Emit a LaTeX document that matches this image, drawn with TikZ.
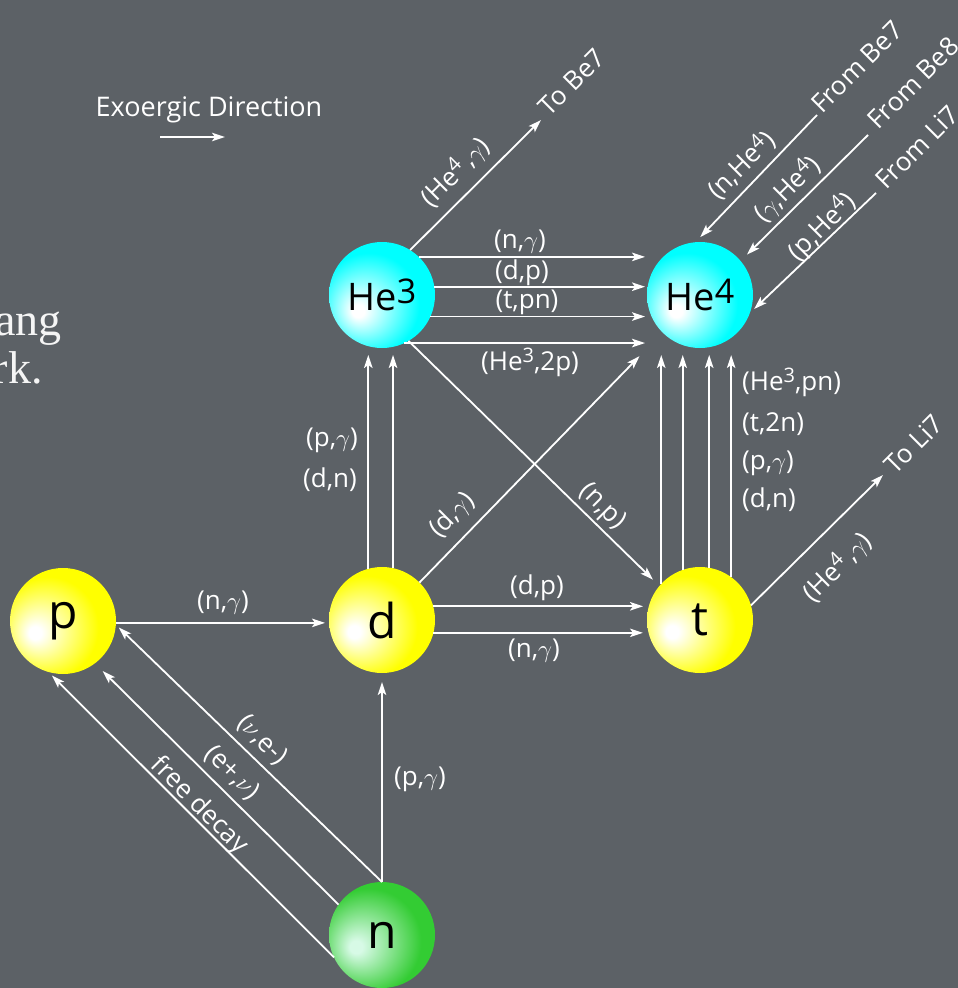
\documentclass[tikz,border=0pt]{standalone}
\usepackage{fontspec}
\usetikzlibrary{arrows.meta}
\newfontfamily\lab{Open Sans}
\newfontfamily\ser{Liberation Serif}
\definecolor{bg}{RGB}{92,97,102}
\definecolor{ngreen}{RGB}{51,204,51}
\definecolor{ltgreen}{RGB}{215,250,230}
\definecolor{txtw}{RGB}{245,245,245}
\pgfdeclareradialshading{yball}{\pgfpoint{-14bp}{-6bp}}{color(0bp)=(white); color(3bp)=(white); color(24bp)=(yellow); color(50bp)=(yellow)}
\pgfdeclareradialshading{cball}{\pgfpoint{-12bp}{-8bp}}{color(0bp)=(white); color(3bp)=(white); color(24bp)=(cyan); color(50bp)=(cyan)}
\pgfdeclareradialshading{gball}{\pgfpoint{-13bp}{-6bp}}{color(0bp)=(ltgreen); color(3bp)=(ltgreen); color(25bp)=(ngreen); color(50bp)=(ngreen)}
\newcommand\lsup[1]{\raisebox{8pt}{\fontsize{20}{20}\selectfont #1}}
\newcommand\nsup[1]{\raisebox{7pt}{\fontsize{34}{34}\selectfont #1}}
\tikzset{
  ball/.style={circle, minimum size=106pt, inner sep=0pt, outer sep=0pt, text=black},
  small/.style={font=\lab\fontsize{48}{52}\selectfont},
  heball/.style={font=\lab\fontsize{38}{42}\selectfont},
  arr/.style={draw=white, line width=1.8pt, -{Stealth[length=13pt,width=8.5pt,inset=3pt]}},
  lbl/.style={text=white, font=\lab\fontsize{26}{29}\selectfont, inner sep=0pt},
  ttl/.style={text=txtw, font=\ser\fontsize{46}{50}\selectfont, inner sep=0pt, anchor=base east},
}
\begin{document}
\begin{tikzpicture}[x=1pt,y=-1pt]
\fill[bg] (0,0) rectangle (958,988);
\useasboundingbox (0,0) rectangle (958,988);

% partial slide text
\node[ttl] (tang) at (62,335) {ang};
\node[ttl] (trk) at (43,383) {rk.};

% nodes
\node[ball, shading=cball, heball] (He3) at (382,295) {He\nsup{3}};
\node[ball, shading=cball, heball] (He4) at (700,295) {He\nsup{4}};
\node[ball, shading=yball, small] (p) at (63,621) {p};
\node[ball, shading=yball, small] (d) at (382,620) {d};
\node[ball, shading=yball, small] (t) at (700,620) {t};
\node[ball, shading=gball, small] (n) at (382,935) {n};

% free ends
\coordinate (toBe7) at (541,120);
\coordinate (fromBe7) at (817,115);
\coordinate (fromBe8) at (868,135);
\coordinate (fromLi7) at (876,193);
\coordinate (toLi7) at (883,475);
\coordinate (exA) at (160,137);
\coordinate (exB) at (225,137);

% exoergic direction
\node[lbl, font=\lab\fontsize{27}{30}\selectfont] (exo) at (209,110) {Exoergic Direction};
\draw[arr] (exA) -- (exB);

% He3 -> He4
\draw[arr, shorten >=2pt] (He3.46) -- (He3.46 -| He4.west);
\draw[arr, shorten >=2pt] (He3.9) -- (He3.9 -| He4.west);
\draw[arr, shorten >=2pt] (He3.-24) -- (He3.-24 -| He4.west);
\draw[arr, shorten >=2pt] (He3.-65) -- (He3.-65 -| He4.west);
\node[lbl] (l1) at (520,242) {(n,$\gamma$)};
\node[lbl] (l2) at (522,273) {(d,p)};
\node[lbl] (l3) at (527,302) {(t,pn)};
\node[lbl] (l4) at (530,362) {(He\lsup{3},2p)};

% He3 -> Be7
\draw[arr] (He3.58) -- (toBe7);
\node[lbl, rotate=45] (l5) at (455,172) {(He\lsup{4}\,,$\gamma$)};
\node[lbl, rotate=45] (l6) at (572,82) {To Be7};

% into He4
\draw[arr, shorten >=7pt] (fromBe7) -- (He4.95);
\draw[arr, shorten >=9pt] (fromBe8) -- (He4.40);
\draw[arr, shorten >=6pt] (fromLi7) -- (He4.-20);
\node[lbl, rotate=45] (l7) at (741,165) {(n,He\lsup{4})};
\node[lbl, rotate=45] (l8) at (787,189) {($\gamma$,He\lsup{4})};
\node[lbl, rotate=45] (l9) at (822,227) {(p,He\lsup{4})};
\node[lbl, rotate=45] (l10) at (857,67) {From Be7};
\node[lbl, rotate=45] (l11) at (913,83) {From Be8};
\node[lbl, rotate=45] (l12) at (917,147) {From Li7};

% d -> He3
\draw[arr, shorten >=7pt] (d.105) -- (d.105 |- He3.south);
\draw[arr, shorten >=7pt] (d.78) -- (d.78 |- He3.south);
\node[lbl] (l13) at (332,440) {(p,$\gamma$)};
\node[lbl] (l14) at (330,480) {(d,n)};

% t -> He4
\draw[arr, shorten >=7pt] (t.137) -- (t.137 |- He4.south);
\draw[arr, shorten >=7pt] (t.109) -- (t.109 |- He4.south);
\draw[arr, shorten >=7pt] (t.80) -- (t.80 |- He4.south);
\draw[arr, shorten >=7pt] (t.54) -- (t.54 |- He4.south);
\node[lbl, anchor=west] (l15) at (742,382) {(He\lsup{3},pn)};
\node[lbl, anchor=west] (l16) at (742,424) {(t,2n)};
\node[lbl, anchor=west] (l17) at (742,463) {(p,$\gamma$)};
\node[lbl, anchor=west] (l18) at (742,500) {(d,n)};

% diagonals
\draw[arr, shorten >=33pt] (d.45) -- (He4.225);
\draw[arr, shorten >=9pt] (He3.-60) -- (t.140);
\node[lbl, rotate=45] (l19) at (452,515) {(d,$\gamma$)};
\node[lbl, rotate=-45] (l20) at (602,507) {(n,p)};

% d -> t
\draw[arr, shorten >=4pt] (d.15) -- (d.15 -| t.west);
\draw[arr, shorten >=4pt] (d.-14) -- (d.-14 -| t.west);
\node[lbl] (l21) at (537,588) {(d,p)};
\node[lbl] (l22) at (534,651) {(n,$\gamma$)};

% t -> Li7
\draw[arr] (t.16) -- (toLi7);
\node[lbl, rotate=45] (l23) at (837,567) {(He\lsup{4}\,,$\gamma$)};
\node[lbl, rotate=45] (l24) at (914,444) {To Li7};

% p -> d
\draw[arr, shorten >=4pt] (p.-2) -- (p.-2 -| d.west);
\node[lbl] (l25) at (223,603) {(n,$\gamma$)};

% n -> d
\draw[arr, shorten >=9pt] (n.north) -- (d.south);
\node[lbl] (l26) at (420,779) {(p,$\gamma$)};

% n -> p
\draw[arr, shorten >=4pt] (n.90) -- (p.-4);
\draw[arr, shorten >=11pt] (n.145) -- (p.-53);
\draw[arr, shorten >=5pt] (n.205) -- (p.254);
\node[lbl, rotate=-45] (l27) at (262,740) {($\nu$,e-)};
\node[lbl, rotate=-45] (l28) at (232,773) {(e+,$\nu$)};
\node[lbl, rotate=-45] (l29) at (199,806) {free decay};
\end{tikzpicture}
\end{document}
